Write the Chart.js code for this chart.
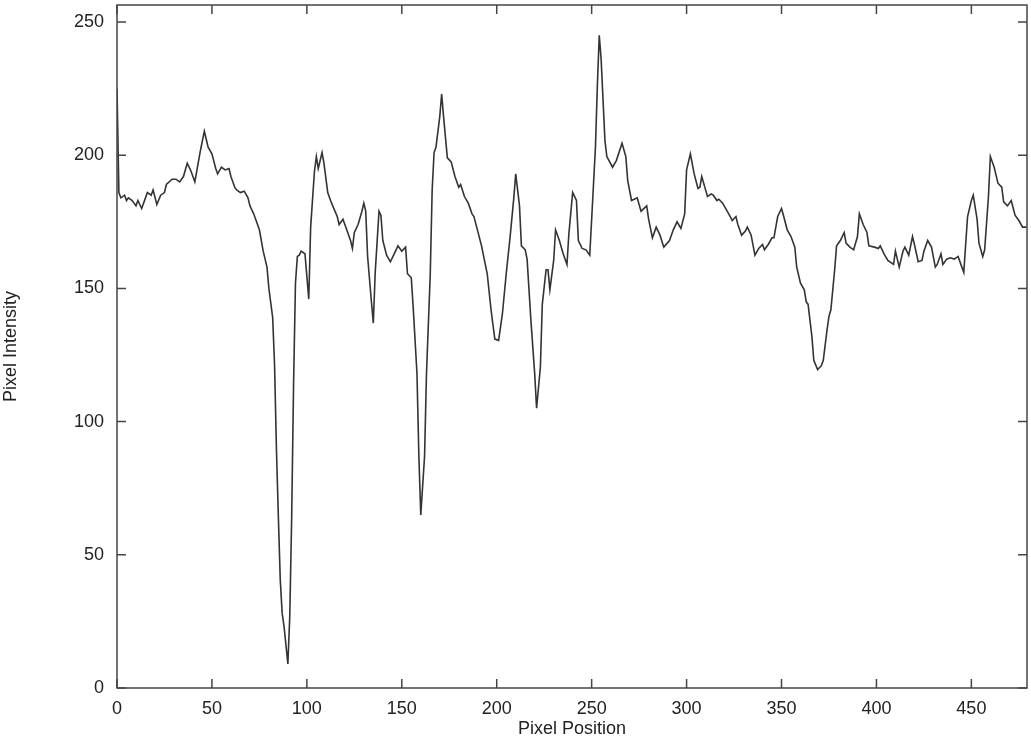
<!DOCTYPE html>
<html>
<head>
<meta charset="utf-8">
<script src="https://cdn.jsdelivr.net/npm/chart.js@4.4.0/dist/chart.umd.min.js"></script>
<style>
  html, body { margin: 0; padding: 0; background: #fff; }
  #wrap { width: 1031px; height: 741px; }
</style>
</head>
<body>
<div id="wrap"><canvas id="profile" width="1031" height="741"></canvas></div>
<script>
// pixel positions along the scan line
var positions = [
  0, 1, 2, 4, 5, 6, 8, 10, 11, 13, 15, 16, 18, 19, 21, 23, 25, 26, 29, 31,
  33, 35, 37, 39, 41, 44, 46, 48, 50, 52, 53, 55, 57, 59, 60, 62, 63, 65, 67, 69,
  70, 72, 75, 77, 79, 80, 82, 83, 84, 85, 86, 87, 88, 90, 91, 92, 93, 94, 95, 96,
  97, 99, 101, 102, 104, 105, 106, 108, 109, 111, 113, 116, 117, 119, 121, 123, 124, 125, 127, 129,
  130, 131, 132, 134, 135, 136, 138, 139, 140, 142, 144, 146, 148, 150, 152, 153, 155, 156, 158, 159,
  160, 162, 163, 165, 166, 167, 168, 170, 171, 172, 174, 176, 178, 180, 181, 183, 185, 187, 188, 190,
  192, 195, 197, 199, 201, 203, 205, 207, 209, 210, 212, 213, 215, 216, 218, 220, 221, 223, 224, 226,
  227, 228, 230, 231, 233, 235, 237, 238, 240, 242, 243, 245, 247, 249, 250, 252, 253, 254, 255, 257,
  258, 261, 263, 266, 268, 269, 271, 274, 276, 279, 280, 282, 284, 286, 288, 291, 293, 295, 297, 299,
  300, 302, 304, 306, 307, 308, 310, 311, 313, 314, 316, 317, 319, 321, 323, 324, 326, 327, 329, 331,
  332, 334, 336, 338, 340, 341, 343, 345, 346, 348, 350, 351, 353, 355, 357, 358, 360, 362, 363, 364,
  366, 367, 369, 371, 372, 374, 375, 376, 378, 379, 381, 383, 384, 386, 388, 390, 391, 393, 395, 396,
  399, 401, 402, 404, 406, 409, 410, 412, 414, 415, 417, 419, 420, 422, 424, 425, 427, 429, 431, 432,
  434, 435, 437, 439, 441, 443, 445, 446, 448, 450, 451, 453, 454, 456, 457, 459, 460, 462, 464, 466,
  467, 469, 471, 473, 475, 477, 479
];

// intensity
var intensity = [
  225, 186, 184, 185, 183, 184, 183, 181, 183, 180, 184, 186, 185, 187, 181.5, 185, 186, 189, 191, 191,
  190, 192, 197, 194, 190, 202, 209, 203, 200.5, 195, 193, 195.5, 194.5, 195, 192, 188, 187, 186, 186.5, 184,
  181, 178, 172, 164, 158, 150, 139, 121, 89, 64, 40.5, 28, 23, 9, 27, 64, 114, 152, 162, 162.5,
  164, 163, 146, 173, 194, 199.5, 195, 201, 197, 186, 182, 177, 174, 176, 172, 168, 165, 171, 174, 179,
  182, 179, 162, 145, 137, 156, 179, 177.5, 168, 162.5, 160, 163, 166, 164, 165.5, 155.5, 154, 143, 118, 87,
  65, 87, 118, 155.5, 187, 201, 203, 214.5, 223, 214.5, 199, 197.5, 192, 188, 189, 184.5, 182, 178, 177, 171.5,
  166, 155.5, 142, 131, 130.5, 140.5, 155.5, 169, 184, 193, 181, 166, 164.5, 161, 138, 118, 105, 120.5, 144, 157,
  157, 149.5, 160.5, 172, 168, 163, 159, 170.5, 186, 183, 168, 165, 164.5, 162.5, 176, 203, 226, 245, 236, 205.5,
  199.5, 195.5, 198, 204.5, 199.5, 190.5, 183, 184, 179, 181, 176, 169, 173, 170, 165.5, 168, 172, 175, 172.5, 178,
  194.5, 200.5, 193, 187.5, 188, 192, 187, 184.5, 185.5, 185, 183, 183.5, 182, 179.5, 177, 175.5, 177, 174, 170, 171.5,
  173, 170, 162.5, 165, 166.5, 164.5, 166.5, 169, 169, 177, 180, 177.5, 172, 169.5, 165.5, 158, 152, 149.5, 145, 144,
  132, 123, 119.5, 121, 123, 134.5, 139.5, 142, 157, 166, 168, 171, 167, 165.5, 164.5, 169.5, 178, 174, 171, 166,
  165.5, 165, 166, 163, 160.5, 159, 164, 158, 164, 165.5, 162.5, 169.5, 166.5, 160, 160.5, 164, 168, 165.5, 158, 159,
  163, 159, 161, 161.5, 161, 162, 158, 156, 177, 183, 185, 176, 167, 162, 164.5, 184.5, 199.5, 195.5, 189.5, 188,
  182.5, 181, 183, 177.5, 175.5, 173, 173
];

var xMax = 479.3;
var yMax = 256.4;
var tickStep = 50;

var points = positions.map(function(p, i) {
  return { x: p, y: intensity[i] };
});

// full frame with ticks pointing inward on all four sides
var frameTicks = {
  id: "frameTicks",
  afterDatasetsDraw: function(chart) {
    var c = chart.ctx, a = chart.chartArea, len = 9;
    c.save();
    c.strokeStyle = "#444";
    c.lineWidth = 1.5;
    c.strokeRect(a.left, a.top, a.right - a.left, a.bottom - a.top);
    c.beginPath();
    chart.scales.x.ticks.forEach(function(t) {
      var px = chart.scales.x.getPixelForValue(t.value);
      c.moveTo(px, a.bottom); c.lineTo(px, a.bottom - len);
      c.moveTo(px, a.top); c.lineTo(px, a.top + len);
    });
    chart.scales.y.ticks.forEach(function(t) {
      var py = chart.scales.y.getPixelForValue(t.value);
      c.moveTo(a.left, py); c.lineTo(a.left + len, py);
      c.moveTo(a.right, py); c.lineTo(a.right - len, py);
    });
    c.stroke();
    c.restore();
  }
};

var font = { family: "'Liberation Sans', Arial, Helvetica, sans-serif", size: 18 };

var ctx = document.getElementById("profile").getContext("2d");
var chart = new Chart(ctx, {
  type: "line",
  data: {
    datasets: [
      {
        label: "Intensity",
        data: points,
        borderColor: "#333",
        borderWidth: 1.6,
        pointRadius: 0,
        tension: 0,
        fill: false
      }
    ]
  },
  options: {
    responsive: false,
    animation: false,
    layout: { padding: { left: 0, right: 4, top: 5, bottom: 0 } },
    plugins: {
      legend: { display: false },
      tooltip: { enabled: false }
    },
    scales: {
      x: {
        type: "linear",
        min: 0,
        max: xMax,
        afterFit: function(scale) {
          scale.height = 53;
          scale.paddingLeft = 0;
          scale.paddingRight = 0;
        },
        grid: { display: false, drawTicks: false },
        border: { display: false },
        ticks: { stepSize: tickStep, includeBounds: false, color: "#222", font: font, padding: 10, maxRotation: 0 },
        title: { display: true, text: "Pixel Position", color: "#222", font: font, padding: { top: 0, bottom: 1 } }
      },
      y: {
        min: 0,
        max: yMax,
        afterFit: function(scale) {
          scale.width = 117;
          scale.paddingTop = 0;
          scale.paddingBottom = 0;
        },
        grid: { display: false, drawTicks: false },
        border: { display: false },
        ticks: { stepSize: tickStep, includeBounds: false, color: "#222", font: font, padding: 13 },
        title: { display: true, text: "Pixel Intensity", color: "#222", font: font, padding: { top: 0, bottom: 0 } }
      }
    }
  },
  plugins: [frameTicks]
});
</script>
</body>
</html>
